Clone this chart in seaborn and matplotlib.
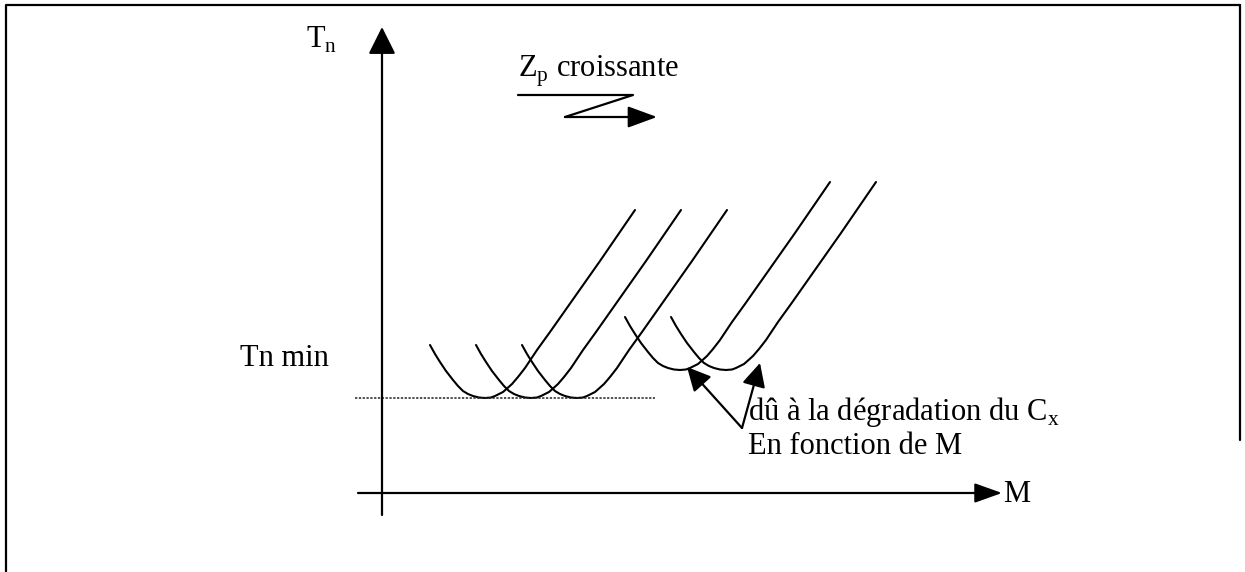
import matplotlib
matplotlib.use("Agg")
import matplotlib.pyplot as plt
import seaborn as sns
import pandas as pd

# ---------------------------------------
# Data (schematic: M on x, Tn on y, origin at the axes crossing)
# ---------------------------------------

# shape of one Tn(M) curve
base_M = [48, 53, 58, 64, 71, 76, 81, 86, 91, 97, 103, 109, 113, 117, 121, 125,
          130, 136, 143, 155, 168, 218, 253]
base_Tn = [148, 139, 131, 122, 113, 107, 102, 99, 97, 95.5, 95, 95.5, 97, 99, 101,
           104.5, 109, 116, 125, 143, 161, 232, 283]

# each curve is the same shape moved right (Zp up) and, for the last two, up (Cx loss)
curve_names = ["Zp1", "Zp2", "Zp3", "Zp4", "Zp5"]
shift_M = [0, 46, 92, 195, 241]
shift_Tn = [0, 0, 0, 28, 28]

tn_min = 95
tn_min_span = [-27, 273]

rows = []
for name, dm, dt in zip(curve_names, shift_M, shift_Tn):
    for m, t in zip(base_M, base_Tn):
        rows.append({"curve": name, "M": m + dm, "Tn": t + dt})
df = pd.DataFrame(rows)

# ---------------------------------------
# Figure
# ---------------------------------------

sns.set_theme(style="white")
plt.rcParams["font.family"] = ["Liberation Serif", "DejaVu Serif"]
plt.rcParams["mathtext.fontset"] = "custom"
plt.rcParams["mathtext.rm"] = "Liberation Serif"
plt.rcParams["text.color"] = "black"

fig = plt.figure(figsize=(12.45, 5.72), dpi=100)
ax = fig.add_axes([0, 0, 1, 1])
ax.set_xlim(-382, 863)
ax.set_ylim(-79, 493)
ax.set_axis_off()

# frame around the picture
ax.plot([-376.5, -376.5, 858], [-79, 488.5, 488.5], color="black", lw=1.6)
ax.plot([858, 858], [488.5, 53], color="black", lw=1.6)

# curves
sns.lineplot(data=df, x="M", y="Tn", units="curve", estimator=None, sort=False,
             color="black", lw=1.5, legend=False, ax=ax)

# Tn min level
ax.plot(tn_min_span, [tn_min, tn_min], color="#222222", lw=1.1, ls=(0, (1.5, 1)))

# axes arrows
ax.annotate("", xy=(0, 466), xytext=(0, -22),
            arrowprops=dict(arrowstyle="-|>,head_length=1.4,head_width=0.7",
                            color="black", lw=1.6, shrinkA=0, shrinkB=0))
ax.annotate("", xy=(620, 0), xytext=(-24, 0),
            arrowprops=dict(arrowstyle="-|>,head_length=1.4,head_width=0.5",
                            color="black", lw=1.6, shrinkA=0, shrinkB=0))

# Zp croissante zig-zag arrow
ax.plot([136, 251, 183], [398, 398, 376], color="black", lw=1.6)
ax.annotate("", xy=(275, 376), xytext=(183, 376),
            arrowprops=dict(arrowstyle="-|>,head_length=1.5,head_width=0.55",
                            color="black", lw=1.6, shrinkA=0, shrinkB=0))

# Cx arrows
for tip in [(305, 126), (378, 130)]:
    ax.annotate("", xy=tip, xytext=(360, 65),
                arrowprops=dict(arrowstyle="-|>,head_length=1.2,head_width=0.6",
                                color="black", lw=1.6, shrinkA=0, shrinkB=0))

# texts
fs = 22
ax.text(-76, 453, r"T$_\mathrm{n}$", fontsize=fs, va="center", ha="left")
ax.text(-142, 135, "Tn min", fontsize=fs, va="center", ha="left")
ax.text(136, 422, r"Z$_\mathrm{p}$ croissante", fontsize=fs, va="center", ha="left")
ax.text(366, 81, r"dû à la dégradation du C$_\mathrm{x}$", fontsize=fs, va="center", ha="left")
ax.text(366, 46, "En fonction de M", fontsize=fs, va="center", ha="left")
ax.text(621, -1, "M", fontsize=fs, va="center", ha="left")

plt.savefig("out.png", dpi=100)
